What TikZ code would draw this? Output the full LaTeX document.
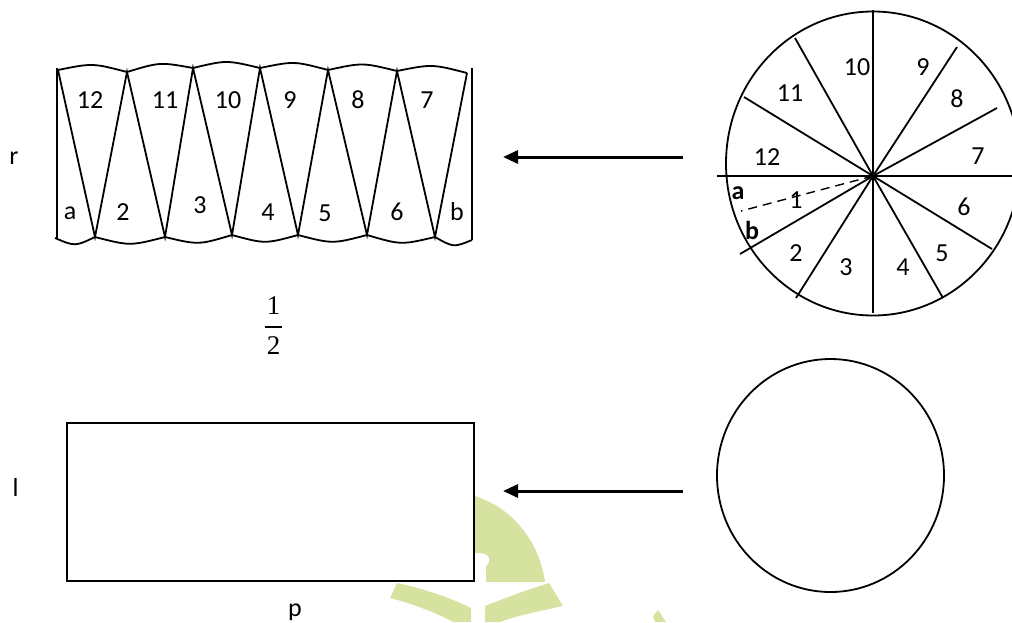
\documentclass[tikz,border=0pt]{standalone}
\usepackage{fontspec}
\setmainfont{Carlito}
\newfontfamily\seriffont{Liberation Serif}
\usetikzlibrary{arrows.meta,calc,shapes.geometric}
\definecolor{wm}{RGB}{213,226,160}
\begin{document}
\begin{tikzpicture}[x=1pt,y=-1pt,line width=1.8pt,
  lbl/.style={font=\fontsize{26}{30}\selectfont,inner sep=0pt},
  blbl/.style={font=\fontsize{26}{30}\selectfont\bfseries,inner sep=0pt},
  fraclbl/.style={font=\fontsize{27}{30}\selectfont\seriffont,inner sep=0pt},
  bigarrow/.style={line width=3pt,-{Triangle[length=15pt,width=13pt]}},
  wmark/.style={fill=wm,draw=none}]
\useasboundingbox (0,0) rectangle (1012,622);
% ---------- faint watermark ----------
\fill[wmark] (468,494) .. controls (515,506) and (540,545) .. (545,582) -- (486,582) -- (486,566) .. controls (492,562) and (490,553) .. (480,553) -- (470,553) -- cycle;
\fill[wmark] (485,606) .. controls (510,596) and (530,589) .. (549,583) -- (563,606) .. controls (540,611) and (515,616) .. (500,622) -- (485,622) -- cycle;
\fill[wmark] (390,598) -- (397,583) .. controls (430,590) and (455,600) .. (471,608) -- (471,622) -- (453,622) .. controls (435,612) and (410,603) .. (390,598) -- cycle;
\fill[wmark] (653,616) -- (658,610) -- (666,622) -- (655,622) -- cycle;
% ---------- unrolled strip ----------
\coordinate (T0) at (58,70);
\coordinate (T1) at (127,72);
\coordinate (T2) at (193,68);
\coordinate (T3) at (260,68);
\coordinate (T4) at (328,70);
\coordinate (T5) at (397,71);
\coordinate (T6) at (467,73);
\coordinate (BL) at (55,238);
\coordinate (B1) at (95,237);
\coordinate (B2) at (165,237);
\coordinate (B3) at (232,235);
\coordinate (B4) at (298,235);
\coordinate (B5) at (367,235);
\coordinate (B6) at (435,237);
\coordinate (BR) at (472,240);
\coordinate (VL1) at (57,68);
\coordinate (VL2) at (57,239);
\coordinate (VR1) at (472,68);
\coordinate (VR2) at (472,240);
\draw (VL1) -- (VL2);
\draw (VR1) -- (VR2);
\draw[line join=miter] (T0) -- (B1) -- (T1) -- (B2) -- (T2) -- (B3) -- (T3) -- (B4) -- (T4) -- (B5) -- (T5) -- (B6) -- (T6);
\foreach \a/\b in {T0/T1,T1/T2,T2/T3,T3/T4,T4/T5,T5/T6}
  \draw (\a) .. controls ($(\a)!0.5!(\b)+(0,-8)$) .. (\b);
\foreach \a/\b in {BL/B1,B1/B2,B2/B3,B3/B4,B4/B5,B5/B6,B6/BR}
  \draw (\a) .. controls ($(\a)!0.5!(\b)+(0,9)$) .. (\b);
\node[lbl] (s12) at (90,100) {12};
\node[lbl] (s11) at (165,100) {11};
\node[lbl] (s10) at (228,100) {10};
\node[lbl] (s9) at (290,100) {9};
\node[lbl] (s8) at (358,100) {8};
\node[lbl] (s7) at (427,100) {7};
\node[lbl] (sa) at (70,213) {a};
\node[lbl] (s2) at (123,212) {2};
\node[lbl] (s3) at (200,205) {3};
\node[lbl] (s4) at (268,212) {4};
\node[lbl] (s5) at (325,213) {5};
\node[lbl] (s6) at (397,212) {6};
\node[lbl] (sb) at (457,212) {b};
\node[lbl] (r) at (14,158) {r};
% fraction 1/2
\node[fraclbl] (num) at (273.5,306) {1};
\node[fraclbl] (den) at (273.5,345.5) {2};
\coordinate (barL) at (265,327);
\coordinate (barR) at (282,327);
\draw[line width=2.6pt] (barL) -- (barR);
% ---------- sliced circle ----------
\draw (873,163.5) ellipse [x radius=147pt, y radius=152pt];
\coordinate (H) at (873,176);
\foreach \p in {(873,10),(873,313),(717,176),(1012,176),(795,38),(744,97),(957,47),(997,108),(992,249),(943,298),(796,298),(740,254)}
  \draw (H) -- \p;
\coordinate (D) at (741,211);
\draw[line width=1.4pt,dash pattern=on 9pt off 6pt] (H) -- (D);
\node[lbl] (c10) at (857,67) {10};
\node[lbl] (c9) at (923,67) {9};
\node[lbl] (c11) at (790,93) {11};
\node[lbl] (c8) at (957,99) {8};
\node[lbl] (c12) at (767,157) {12};
\node[lbl] (c7) at (978,156) {7};
\node[blbl] (ca) at (738,193) {a};
\node[lbl] (c1) at (796,200) {1};
\node[lbl] (c6) at (964,207) {6};
\node[blbl] (cb) at (752,230) {b};
\node[lbl] (c2) at (796,253) {2};
\node[lbl] (c5) at (942,253) {5};
\node[lbl] (c3) at (846,267) {3};
\node[lbl] (c4) at (903,267) {4};
\coordinate (A1s) at (683,157);
\coordinate (A1e) at (503,157);
\draw[bigarrow] (A1s) -- (A1e);
% ---------- bottom row ----------
\node[draw,fill=white,minimum width=407pt,minimum height=158pt,inner sep=0pt,anchor=north west,line width=2.2pt] (rect) at (66,422) {};
\node[lbl] (l) at (15.5,487) {l};
\node[lbl] (p) at (295,612) {p};
\node[draw,ellipse,minimum width=227pt,minimum height=233pt,inner sep=0pt] (circ) at (830.5,475.5) {};
\coordinate (A2s) at (683,491);
\coordinate (A2e) at (503,491);
\draw[bigarrow] (A2s) -- (A2e);
\end{tikzpicture}
\end{document}
